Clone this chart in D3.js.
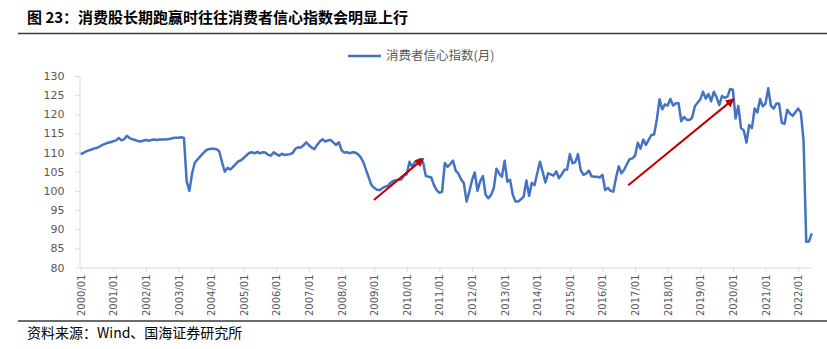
<!DOCTYPE html>
<html><head><meta charset="utf-8">
<script src="https://cdn.jsdelivr.net/npm/d3@7"></script>
<style>body{margin:0;background:#fff}svg{display:block}</style>
</head><body>
<svg id="c" width="827" height="349"></svg>
<script>
// ---- data: China consumer confidence index (monthly), 2000/01 - 2022/06 ----
const v2000 = [109.6,109.9,110.3,110.6,110.8,111.1,111.2,111.6,112.0,112.3,112.6,112.7];
const v2001 = [113.0,113.2,113.8,113.2,113.5,114.4,113.8,113.5,113.3,113.0,112.9,113.1];
const v2002 = [113.3,113.1,113.3,113.4,113.3,113.4,113.4,113.4,113.5,113.6,113.8,113.9];
const v2003 = [113.9,114.0,113.8,102.5,100.0,104.6,107.4,108.2,109.0,109.8,110.5,110.9];
const v2004 = [111.0,111.0,110.9,110.3,107.5,105.0,106.0,105.6,106.2,107.0,107.7,108.0];
const v2005 = [108.6,109.3,109.9,110.1,109.8,110.2,109.8,110.1,110.0,109.4,109.2,110.1];
const v2006 = [109.6,109.2,109.7,109.4,109.5,109.6,109.9,111.0,111.4,111.3,111.9,112.7];
const v2007 = [111.9,111.3,110.9,112.0,112.9,113.5,112.9,113.2,113.3,112.6,112.0,112.7];
const v2008 = [110.6,110.0,110.1,109.8,110.1,110.0,109.6,108.8,107.5,105.5,103.5,101.5];
const v2009 = [100.8,100.3,100.2,100.7,101.1,101.3,102.1,102.6,102.8,102.9,103.0,104.0];
const v2010 = [104.4,107.6,106.3,107.6,108.0,108.3,107.4,103.9,103.7,103.5,101.5,100.2];
const v2011 = [99.5,99.8,107.3,106.3,107.0,107.9,105.3,104.5,103.0,102.0,97.2,99.8];
const v2012 = [102.8,104.8,100.0,102.5,103.9,99.0,98.1,98.9,100.7,105.8,104.5,103.7];
const v2013 = [107.9,102.4,102.9,99.0,97.2,97.2,97.8,98.5,102.7,98.7,102.1,101.5];
const v2014 = [104.6,107.6,105.0,102.2,104.6,104.3,104.0,105.1,103.3,104.3,105.5,105.6];
const v2015 = [109.6,107.2,107.5,109.6,105.4,104.2,104.5,105.3,103.8,103.7,103.7,103.5];
const v2016 = [104.2,100.2,100.8,100.0,99.8,103.5,106.4,104.6,105.5,107.0,108.3,108.5];
const v2017 = [109.2,112.6,111.0,113.4,112.0,113.3,114.6,114.7,118.6,123.9,121.3,122.6];
const v2018 = [122.3,124.0,122.3,122.9,122.9,118.2,119.3,118.6,118.5,119.1,122.1,123.0];
const v2019 = [123.9,125.9,124.1,125.3,123.4,125.9,124.4,122.4,124.8,124.3,124.6,126.6];
const v2020 = [126.4,118.9,122.2,116.4,115.8,112.6,117.2,116.4,121.5,120.5,124.0,122.1];
const v2021 = [122.8,126.8,122.2,121.5,122.8,122.8,117.8,117.5,121.2,120.2,119.6,120.5];
const v2022 = [121.5,120.5,113.2,86.7,86.8,88.9];

const xTickLabels = ["2000/01","2001/01","2002/01","2003/01","2004/01","2005/01","2006/01",
  "2007/01","2008/01","2009/01","2010/01","2011/01","2012/01","2013/01","2014/01","2015/01",
  "2016/01","2017/01","2018/01","2019/01","2020/01","2021/01","2022/01"];
const yTicks = [80,85,90,95,100,105,110,115,120,125,130];
const seriesName = "消费者信心指数(月)";
const title = "图 23：消费股长期跑赢时往往消费者信心指数会明显上行";
const source = "资料来源：Wind、国海证券研究所";
// arrows (month index from 2000/01, index value)
const arrowFromMonth = [107.9, 201.5];
const arrowFromValue = [97.6, 101.5];
const arrowToMonth = [125.9, 240.1];
const arrowToValue = [108.3, 123.9];

const values = [].concat(v2000,v2001,v2002,v2003,v2004,v2005,v2006,v2007,v2008,v2009,v2010,
  v2011,v2012,v2013,v2014,v2015,v2016,v2017,v2018,v2019,v2020,v2021,v2022);
const data = values.map((v,i)=>({i, v}));

const svg = d3.select("#c");
const x = d3.scaleLinear().domain([0, values.length-1]).range([80.7, 811.7]);
const y = d3.scaleLinear().domain([80,130]).range([267.5, 76]);

// title & rules
svg.append("text").attr("x",27).attr("y",23)
  .attr("font-family","'Noto Sans CJK SC'").attr("font-weight","bold").attr("font-size",15)
  .attr("fill","#000").text(title);
svg.append("line").attr("x1",18).attr("x2",827).attr("y1",33.5).attr("y2",33.5)
  .attr("stroke","#3a3a3a").attr("stroke-width",1.5);
svg.append("line").attr("x1",18).attr("x2",827).attr("y1",321).attr("y2",321)
  .attr("stroke","#3a3a3a").attr("stroke-width",1.5);
svg.append("text").attr("x",27).attr("y",338)
  .attr("font-family","'Noto Sans CJK SC'").attr("font-size",14)
  .attr("fill","#000").text(source);

// y axis
const gy = svg.append("g").attr("transform","translate(79.5,0)")
  .call(d3.axisLeft(y).tickValues(yTicks).tickSize(4).tickSizeOuter(0).tickPadding(11));
gy.select(".domain").attr("stroke","#d9d9d9");
gy.selectAll(".tick line").attr("stroke","#d9d9d9");
gy.selectAll(".tick text").attr("font-family","'DejaVu Sans'").attr("font-size",11).attr("fill","#595959");

// x axis
const gx = svg.append("g").attr("transform",`translate(0,${y(80)})`)
  .call(d3.axisBottom(x).tickValues(xTickLabels.map((d,k)=>k*12))
    .tickFormat((d,k)=>xTickLabels[k]).tickSize(4).tickSizeOuter(0));
gx.select(".domain").attr("stroke","#d9d9d9");
gx.selectAll(".tick line").attr("stroke","#d9d9d9");
gx.selectAll(".tick text").attr("font-family","'DejaVu Sans'").attr("font-size",10).attr("fill","#595959")
  .attr("transform","rotate(-90)").attr("text-anchor","end").attr("x",-7).attr("y",0).attr("dy","0.35em");

// line
svg.append("path").datum(data)
  .attr("fill","none").attr("stroke","#4472C4").attr("stroke-width",2.5).attr("stroke-linejoin","round")
  .attr("d", d3.line().x(d=>x(d.i)).y(d=>y(d.v)));

// arrows
svg.append("defs").append("marker").attr("id","ah").attr("viewBox","0 0 10 10")
  .attr("refX",8).attr("refY",5).attr("markerWidth",4.5).attr("markerHeight",4.5)
  .attr("orient","auto").append("path").attr("d","M0,0L10,5L0,10z").attr("fill","#C00000");
svg.selectAll(".arrow").data(arrowFromMonth).enter().append("line").attr("class","arrow")
  .attr("x1",(d,k)=>x(arrowFromMonth[k])).attr("y1",(d,k)=>y(arrowFromValue[k]))
  .attr("x2",(d,k)=>x(arrowToMonth[k])).attr("y2",(d,k)=>y(arrowToValue[k]))
  .attr("stroke","#C00000").attr("stroke-width",2).attr("marker-end","url(#ah)");

// legend
svg.append("line").attr("x1",348).attr("x2",381).attr("y1",56).attr("y2",56)
  .attr("stroke","#4472C4").attr("stroke-width",2.5);
svg.append("text").attr("x",386).attr("y",56).attr("dy","0.35em")
  .attr("font-family","'Noto Sans CJK SC'").attr("font-size",12.5).attr("fill","#595959").text(seriesName);
</script>
</body></html>
